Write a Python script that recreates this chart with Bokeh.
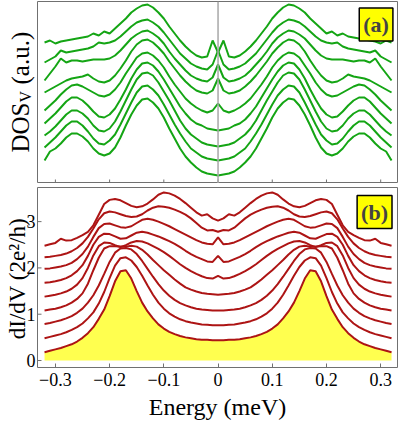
import math
from bokeh.plotting import figure
from bokeh.models import Span, Label, FixedTicker, Range1d
from bokeh.layouts import column, row
from bokeh.embed import file_html
from bokeh.resources import INLINE
from bokeh.core.properties import value

# ---------------- data ----------------
energy = [-0.32, -0.31, -0.30, -0.29, -0.28, -0.27, -0.26, -0.25, -0.24, -0.23, -0.22,
          -0.21, -0.20, -0.19, -0.18, -0.17, -0.16, -0.15, -0.14, -0.13, -0.12, -0.11,
          -0.10, -0.09, -0.08, -0.07, -0.06, -0.05, -0.04, -0.03, -0.02, -0.01, 0.0,
          0.01, 0.02, 0.03, 0.04, 0.05, 0.06, 0.07, 0.08, 0.09, 0.10, 0.11, 0.12, 0.13,
          0.14, 0.15, 0.16, 0.17, 0.18, 0.19, 0.20, 0.21, 0.22, 0.23, 0.24, 0.25, 0.26,
          0.27, 0.28, 0.29, 0.30, 0.31, 0.32]

# panel (a): DOS_V, arbitrary units (top curve first)
dos_1 = [141,143,140,142,143,144,145,146,147,150,148,152,150,155,160,165,171,175,178,179,176,171,165,157,150,143,137,132,128,126,127,143,
         131,
         143,127,126,128,132,137,143,150,157,165,171,176,179,178,175,171,165,160,155,150,152,148,150,147,146,145,144,143,142,140,143,141]
dos_2 = [121,124,127,133,131,132,133,134,135,137,141,140,141,143,147,152,157,161,163,164,161,157,151,144,137,130,125,120,117,115,114,119,
         133,
         119,114,115,117,120,125,130,137,144,151,157,161,164,163,161,157,152,147,143,141,140,141,137,135,134,133,132,131,133,127,124,121]
dos_3 = [103,110,117,125,121,123,123,122,123,124,124,124,125,128,133,139,145,149,152,153,150,146,140,132,125,119,113,108,105,103,102,106,
         119,
         106,102,103,105,108,113,119,125,132,140,146,150,153,152,149,145,139,133,128,125,124,124,124,123,122,123,123,121,125,117,110,103]
dos_4 = [91,94,97,100,103,105,106,107,109,105,102,101,103,108,115,123,132,139,143,144,141,136,130,122,115,108,102,97,93,91,90,93,
         105,
         93,90,91,93,97,102,108,115,122,130,136,141,144,143,139,132,123,115,108,103,101,102,105,109,107,106,105,103,100,97,94,91]
dos_5 = [73,78,83,89,94,98,99,97,94,91,88,87,89,94,101,110,118,126,130,131,128,123,116,107,99,92,85,80,76,73,71,73,
         80,
         73,71,73,76,80,85,92,99,107,116,123,128,131,130,126,118,110,101,94,89,87,88,91,94,97,99,98,94,89,83,78,73]
dos_6 = [60,65,70,76,82,86,86,83,78,72,67,66,69,75,84,94,105,114,120,121,118,112,104,95,86,77,70,64,60,58,55,54,
         53,
         54,55,58,60,64,70,77,86,95,104,112,118,121,120,114,105,94,84,75,69,66,67,72,78,83,86,86,82,76,70,65,60]
dos_7 = [48,52,57,63,69,73,73,70,65,58,53,52,55,62,72,83,94,104,110,111,108,101,92,83,73,63,55,49,45,41,39,38,
         37,
         38,39,41,45,49,55,63,73,83,92,101,108,111,110,104,94,83,72,62,55,52,53,58,65,70,73,73,69,63,57,52,48]
dos_8 = [36,41,46,52,58,62,62,58,52,45,40,39,43,49,59,70,81,91,97,98,94,88,79,69,59,50,42,35,31,27,25,24,
         23,
         24,25,27,31,35,42,50,59,69,79,88,94,98,97,91,81,70,59,49,43,39,40,45,52,58,62,62,58,52,46,41,36]
dos_9 = [23,32,35,40,46,50,50,47,42,35,30,28,30,36,46,58,69,78,84,85,81,75,66,55,45,35,27,21,16,12,10,9,
         8,
         9,10,12,16,21,27,35,45,55,66,75,81,85,84,78,69,58,46,36,30,28,30,35,42,47,50,50,46,40,35,32,23]

# panel (b): dI/dV in units of 2e^2/h (bottom curve first)
didv_1 = [0.18,0.21,0.24,0.27,0.31,0.35,0.41,0.49,0.59,0.72,0.90,1.10,1.39,1.71,1.93,1.95,1.77,1.50,1.25,1.06,0.91,0.78,0.69,0.62,0.57,0.53,0.50,0.48,0.46,0.45,0.45,0.44,
          0.44,
          0.44,0.45,0.45,0.46,0.48,0.50,0.53,0.57,0.62,0.69,0.78,0.91,1.06,1.25,1.50,1.77,1.95,1.93,1.71,1.39,1.10,0.90,0.72,0.59,0.49,0.41,0.35,0.31,0.27,0.24,0.21,0.18]
didv_2 = [0.48,0.51,0.54,0.57,0.61,0.66,0.72,0.80,0.91,1.04,1.23,1.48,1.78,2.05,2.21,2.23,2.16,2.02,1.83,1.62,1.42,1.25,1.12,1.02,0.95,0.89,0.85,0.82,0.80,0.78,0.77,0.76,
          0.76,
          0.76,0.77,0.78,0.80,0.82,0.85,0.89,0.95,1.02,1.12,1.25,1.42,1.62,1.83,2.02,2.16,2.23,2.21,2.05,1.78,1.48,1.23,1.04,0.91,0.80,0.72,0.66,0.61,0.57,0.54,0.51,0.48]
didv_3 = [0.79,0.81,0.84,0.87,0.91,0.96,1.03,1.12,1.25,1.41,1.62,1.87,2.13,2.33,2.42,2.43,2.40,2.30,2.15,1.98,1.81,1.65,1.51,1.40,1.31,1.24,1.19,1.15,1.12,1.10,1.09,1.08,
          1.08,
          1.08,1.09,1.10,1.12,1.15,1.19,1.24,1.31,1.40,1.51,1.65,1.81,1.98,2.15,2.30,2.40,2.43,2.42,2.33,2.13,1.87,1.62,1.41,1.25,1.12,1.03,0.96,0.91,0.87,0.84,0.81,0.79]
didv_4 = [1.08,1.10,1.12,1.15,1.19,1.25,1.33,1.45,1.66,1.95,2.22,2.42,2.47,2.47,2.46,2.46,2.48,2.46,2.39,2.29,2.17,2.06,1.95,1.85,1.75,1.66,1.58,1.53,1.49,1.46,1.44,1.43,
          1.42,
          1.43,1.44,1.46,1.49,1.53,1.58,1.66,1.75,1.85,1.95,2.06,2.17,2.29,2.39,2.46,2.48,2.46,2.46,2.47,2.47,2.42,2.22,1.95,1.66,1.45,1.33,1.25,1.19,1.15,1.12,1.10,1.08]
didv_5 = [1.38,1.40,1.42,1.45,1.49,1.55,1.64,1.78,2.00,2.27,2.47,2.55,2.54,2.49,2.45,2.49,2.55,2.58,2.57,2.53,2.47,2.41,2.34,2.26,2.17,2.08,2.00,1.93,1.87,1.82,1.78,1.77,
          1.83,
          1.77,1.78,1.82,1.87,1.93,2.00,2.08,2.17,2.26,2.34,2.41,2.47,2.53,2.57,2.58,2.55,2.49,2.45,2.49,2.54,2.55,2.47,2.27,2.00,1.78,1.64,1.55,1.49,1.45,1.42,1.40,1.38]
didv_6 = [1.68,1.69,1.71,1.74,1.78,1.84,1.93,2.06,2.26,2.50,2.67,2.74,2.73,2.68,2.63,2.64,2.70,2.76,2.78,2.76,2.72,2.68,2.63,2.58,2.52,2.45,2.37,2.30,2.24,2.19,2.14,2.13,
          2.26,
          2.13,2.14,2.19,2.24,2.30,2.37,2.45,2.52,2.58,2.63,2.68,2.72,2.76,2.78,2.76,2.70,2.64,2.63,2.68,2.73,2.74,2.67,2.50,2.26,2.06,1.93,1.84,1.78,1.74,1.71,1.69,1.68]
didv_7 = [1.98,1.99,2.01,2.03,2.06,2.11,2.19,2.30,2.46,2.67,2.86,2.95,2.96,2.92,2.88,2.87,2.90,2.97,3.04,3.06,3.04,3.00,2.95,2.90,2.84,2.78,2.72,2.66,2.60,2.55,2.52,2.51,
          2.66,
          2.51,2.52,2.55,2.60,2.66,2.72,2.78,2.84,2.90,2.95,3.00,3.04,3.06,3.04,2.97,2.90,2.87,2.88,2.92,2.96,2.95,2.86,2.67,2.46,2.30,2.19,2.11,2.06,2.03,2.01,1.99,1.98]
didv_8 = [2.23,2.24,2.26,2.28,2.31,2.36,2.43,2.53,2.67,2.85,3.05,3.18,3.22,3.20,3.16,3.12,3.10,3.11,3.16,3.24,3.30,3.33,3.32,3.30,3.26,3.21,3.15,3.07,2.97,2.87,2.81,2.82,
          2.78,
          2.82,2.81,2.87,2.97,3.07,3.15,3.21,3.26,3.30,3.32,3.33,3.30,3.24,3.16,3.11,3.10,3.12,3.16,3.20,3.22,3.18,3.05,2.85,2.67,2.53,2.43,2.36,2.31,2.28,2.26,2.24,2.23]
didv_9 = [2.48,2.51,2.54,2.63,2.59,2.60,2.65,2.71,2.78,2.92,3.15,3.38,3.47,3.49,3.46,3.40,3.34,3.31,3.33,3.39,3.48,3.58,3.63,3.61,3.56,3.49,3.40,3.30,3.20,3.13,3.16,3.07,
          3.02,
          3.07,3.16,3.13,3.20,3.30,3.40,3.49,3.56,3.61,3.63,3.58,3.48,3.39,3.33,3.31,3.34,3.40,3.46,3.49,3.47,3.38,3.15,2.92,2.78,2.71,2.65,2.60,2.59,2.63,2.54,2.51,2.48]

dos_curves = [dos_1, dos_2, dos_3, dos_4, dos_5, dos_6, dos_7, dos_8, dos_9]
didv_curves = [didv_1, didv_2, didv_3, didv_4, didv_5, didv_6, didv_7, didv_8, didv_9]

energy_ticks = [-0.3, -0.2, -0.1, 0.0, 0.1, 0.2, 0.3]
energy_tick_labels = ["\u22120.3", "\u22120.2", "\u22120.1", "0", "0.1", "0.2", "0.3"]
didv_ticks = [0, 1, 2, 3]
didv_tick_labels = ["0", "1", "2", "3"]
zero_energy = 0.0

# ---------------- styles ----------------
FONT = "Liberation Serif"
GREEN = "#14a514"
RED = "#ad1414"
FILL = "#ffff4f"
BOX = "#ffff00"
FRAME = "#707070"
X_RANGE = (-0.333, 0.331)
TICK_LEN_A = 4          # panel (a) tick length in its y units (1 unit = 1 px)
TICK_LEN_X = 4 / 542.0  # panel (b) y-tick length in energy units (~4 px)

ya_range = Range1d(0, 182)
yb_range = Range1d(-0.151, 3.737)


def style_axis(ax):
    ax.axis_line_color = None
    ax.major_tick_in = 4
    ax.major_tick_out = 0
    ax.major_tick_line_color = FRAME
    ax.minor_tick_line_color = None
    ax.major_label_text_font = FONT
    ax.major_label_text_font_size = "18px"
    ax.major_label_text_color = "black"


def label_figure(w, h, y_range, top, bottom):
    # narrow text-only figure; its frame lines up with the neighbouring panel's frame
    f = figure(width=w, height=h, x_range=(0, w), y_range=y_range, output_backend="svg",
               toolbar_location=None, min_border_left=0, min_border_right=0,
               min_border_top=top, min_border_bottom=bottom)
    f.axis.visible = False
    f.grid.visible = False
    f.outline_line_color = None
    return f


# ---------------- panel (a) ----------------
pa = figure(frame_width=360, frame_height=182, x_range=X_RANGE, y_range=ya_range,
            output_backend="svg", toolbar_location=None,
            min_border_left=0, min_border_right=1, min_border_top=1, min_border_bottom=0)
pa.outline_line_color = FRAME
pa.grid.visible = False
pa.xaxis.visible = False
pa.yaxis.visible = False

# inward frame ticks along the bottom of panel (a)
pa.segment(x0=energy_ticks, y0=0, x1=energy_ticks, y1=TICK_LEN_A, line_color=FRAME, line_width=1)
pa.add_layout(Span(location=zero_energy, dimension="height", line_color="#a8a8a8", line_width=1.5))
for curve in dos_curves:
    pa.line(energy, curve, line_color=GREEN, line_width=2)

pa.add_layout(Label(x=0.2915, y=159, text="(a)", text_font=FONT, text_font_style="bold",
                    text_font_size="22px", text_align="center", text_baseline="middle",
                    background_fill_color=BOX, border_line_color="black", border_line_width=1.5,
                    padding=4))

lab_a = label_figure(37, 183, ya_range, 1, 0)
lab_a.text(x=[19.5], y=[31], text=["DOS"], angle=math.pi / 2, text_font=value(FONT),
           text_font_size="25px", text_align="left", text_baseline="alphabetic", text_color="black")
lab_a.text(x=[24.5], y=[81], text=["V"], angle=math.pi / 2, text_font=value(FONT),
           text_font_size="16px", text_align="left", text_baseline="alphabetic", text_color="black")
lab_a.text(x=[19.5], y=[99], text=["(a.u.)"], angle=math.pi / 2, text_font=value(FONT),
           text_font_size="25px", text_align="left", text_baseline="alphabetic", text_color="black")

# ---------------- panel (b) ----------------
pb = figure(frame_width=360, frame_height=180, x_range=X_RANGE, y_range=yb_range,
            output_backend="svg", toolbar_location=None,
            min_border_left=0, min_border_right=1, min_border_top=4, min_border_bottom=56)
pb.outline_line_color = FRAME
pb.grid.visible = False
pb.yaxis.visible = False
style_axis(pb.xaxis[0])
pb.xaxis.ticker = FixedTicker(ticks=energy_ticks)
pb.xaxis.major_label_overrides = dict(zip(energy_ticks, energy_tick_labels))
pb.xaxis.major_label_standoff = 5
pb.xaxis.axis_label = "Energy (meV)"
pb.xaxis.axis_label_text_font = FONT
pb.xaxis.axis_label_text_font_size = "24px"
pb.xaxis.axis_label_text_font_style = "normal"
pb.xaxis.axis_label_text_color = "black"
pb.xaxis.axis_label_standoff = 5

# inward y ticks on the left frame edge of panel (b)
pb.segment(x0=X_RANGE[0], y0=didv_ticks, x1=X_RANGE[0] + TICK_LEN_X, y1=didv_ticks,
           line_color=FRAME, line_width=1)

pb.varea(x=energy, y1=0, y2=didv_1, fill_color=FILL)
for curve in didv_curves:
    pb.line(energy, curve, line_color=RED, line_width=2)

pb.add_layout(Label(x=0.2887, y=3.207, text="(b)", text_font=FONT, text_font_style="bold",
                    text_font_size="22px", text_align="center", text_baseline="middle",
                    background_fill_color=BOX, border_line_color="black", border_line_width=1.5,
                    padding=4))

lab_b = label_figure(37, 240, yb_range, 4, 56)
lab_b.text(x=35, y=didv_ticks, text=didv_tick_labels, text_font=value(FONT),
           text_font_size="18px", text_align="right", text_baseline="middle", text_color="black")
lab_b.text(x=[17], y=[0.46], text=["dI/dV (2e\u00b2/h)"], angle=math.pi / 2, text_font=value(FONT),
           text_font_size="23px", text_align="left", text_baseline="alphabetic", text_color="black")

layout = column(row(lab_a, pa, spacing=0), row(lab_b, pb, spacing=0), spacing=0)
open("out.html", "w").write(file_html(layout, INLINE))
